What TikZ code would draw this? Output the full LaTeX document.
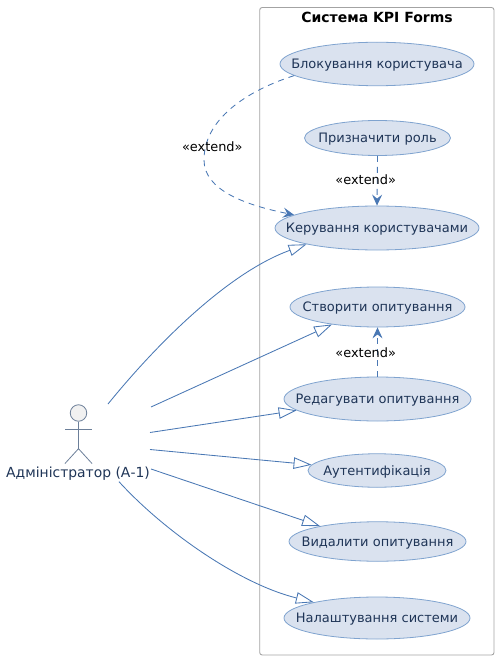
\documentclass[tikz,border=0pt]{standalone}
\usepackage{fontspec}
\setmainfont{DejaVu Sans}
\usetikzlibrary{arrows.meta,shapes.geometric}
\definecolor{ucfill}{HTML}{DAE2EF}
\definecolor{ucline}{HTML}{7FA3CF}
\definecolor{uctext}{HTML}{1F3557}
\definecolor{conn}{HTML}{4A78B4}
\definecolor{boxline}{HTML}{A3A3A3}
\definecolor{actline}{HTML}{6C7F99}
\definecolor{actfill}{HTML}{F1F1F1}
\newcommand{\uctxt}[1]{\makebox[0pt]{\raisebox{-4.8pt}[0pt][0pt]{#1}}}
\tikzset{
  uc/.style={ellipse,draw=ucline,fill=ucfill,line width=.8pt,inner sep=0pt,text=uctext,font=\fontsize{13}{15}\selectfont},
  gen/.style={draw=conn,line width=.85pt,-{Triangle[length=18pt,width=11.5pt,fill=white]}},
  ext/.style={draw=conn,line width=.85pt,dash pattern=on 6pt off 5pt,-{Stealth[length=11pt,width=10pt,inset=4pt,fill=conn]}},
  extlab/.style={text=black,font=\fontsize{12.9}{15}\selectfont,inner sep=0pt},
  actorline/.style={draw=actline,line width=.8pt},
}
\begin{document}
\begin{tikzpicture}[x=1pt,y=-1pt]
\useasboundingbox (0,0) rectangle (499,660);
\node[draw=boxline,line width=.9pt,rounded corners=2.5pt,minimum width=234.3pt,minimum height=647.5pt,inner sep=0pt] (sys) at (376.85,331.25) {};
\node[text=black,font=\bfseries\fontsize{14}{16}\selectfont,inner sep=0pt] (title) at (377,17) {Система KPI Forms};
\node[uc,minimum width=194pt,minimum height=43.5pt] (blk) at (377,64) {\uctxt{Блокування користувача}};
\node[uc,minimum width=146pt,minimum height=35pt] (rol) at (377.5,138) {\uctxt{Призначити роль}};
\node[uc,minimum width=204pt,minimum height=44pt] (usr) at (377,228) {\uctxt{Керування користувачами}};
\node[uc,minimum width=175pt,minimum height=40pt] (cre) at (377.5,307) {\uctxt{Створити опитування}};
\node[uc,minimum width=187pt,minimum height=44pt] (edi) at (377.5,399) {\uctxt{Редагувати опитування}};
\node[uc,minimum width=138pt,minimum height=33.5pt] (aut) at (377,470.5) {\uctxt{Аутентифікація}};
\node[uc,minimum width=177pt,minimum height=39.5pt] (del) at (377.5,541.5) {\uctxt{Видалити опитування}};
\node[uc,minimum width=186pt,minimum height=42pt] (set) at (377,618) {\uctxt{Налаштування системи}};
% actor
\node[circle,draw=actline,fill=actfill,line width=.8pt,minimum size=16.5pt,inner sep=0pt] (head) at (78.5,413) {};
\coordinate (armL) at (65,429.5);
\coordinate (armR) at (92,429.5);
\coordinate (hip) at (78.5,448.7);
\coordinate (legL) at (65,463.5);
\coordinate (legR) at (92,463.5);
\draw[actorline] (head.south) -- (hip);
\draw[actorline] (armL) -- (armR);
\draw[actorline] (legL) -- (hip) -- (legR);
\node[text=uctext,font=\fontsize{13.9}{16}\selectfont,inner sep=0pt] (act) at (78,473.5) {Адміністратор (А-1)};
% free ends beside the actor
\coordinate (a1) at (108,404);
\coordinate (a2) at (151,407);
\coordinate (a3) at (150,432.5);
\coordinate (a4) at (150,449.5);
\coordinate (a5) at (151,469);
\coordinate (a6) at (119,481.7);
\draw[gen] (a1) .. controls (160,340) and (230,272) .. (usr.193.6);
\draw[gen] (a2) -- (cre.201.3);
\draw[gen] (a3) -- (edi.188);
\draw[gen] (a4) -- (aut.175);
\draw[gen] (a5) -- (del.165.4);
\draw[gen] (a6) .. controls (165,532) and (240,584) .. (set.166.8);
\coordinate (bend) at (204,160);
\draw[ext] (blk.188.8) .. controls (255,88) and (204,115) .. (bend) .. controls (204,190) and (245,205) .. (usr.171.7);
\draw[ext] (rol.south) -- (usr.north);
\draw[ext] (edi.north) -- (cre.south);
\node[extlab] (l1) at (212.3,146.7) {«extend»};
\node[extlab] (l2) at (365.7,180) {«extend»};
\node[extlab] (l3) at (365.7,352.3) {«extend»};
\end{tikzpicture}
\end{document}
